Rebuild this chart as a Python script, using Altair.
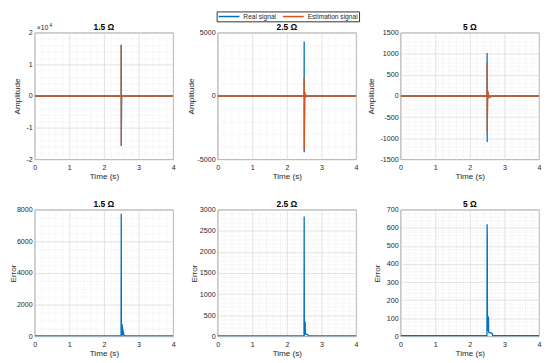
import altair as alt
import numpy as np
import pandas as pd

BLUE = "#0072BD"
ORANGE = "#D95319"
FONT = "Liberation Sans"
TXT = "#262626"

panel_titles = ["1.5 Ω", "2.5 Ω", "5 Ω"]
series_names = ["Real signal", "Estimation signal"]

# ---- Amplitude panels (time in s, amplitude) ----
t_real_15 = [0, 2.498, 2.5, 2.502, 2.51, 2.53, 2.56, 4]
v_real_15 = [0, 0, 16200, -15800, 300, -150, 0, 0]
t_est_15 = [0, 2.498, 2.5, 2.502, 2.51, 2.53, 2.56, 2.6, 4]
v_est_15 = [0, 0, 16000, -15600, 400, -250, 100, 0, 0]

t_real_25 = [0, 2.498, 2.5, 2.502, 2.51, 2.53, 2.6, 4]
v_real_25 = [0, 0, 4300, -4450, 100, -60, 0, 0]
t_est_25 = [0, 2.498, 2.5, 2.502, 2.52, 2.54, 2.56, 2.6, 4]
v_est_25 = [0, 0, 1500, -4300, 300, -120, 60, 0, 0]

t_real_5 = [0, 2.498, 2.5, 2.502, 2.51, 2.55, 4]
v_real_5 = [0, 0, 1020, -1090, 30, 0, 0]
t_est_5 = [0, 2.498, 2.5, 2.502, 2.52, 2.56, 2.62, 2.66, 4]
v_est_5 = [0, 0, 790, -860, 120, -40, -10, 0, 0]

# ---- Error panels ----
t_err_15 = [0, 2.495, 2.5, 2.505, 2.51, 2.515, 2.52, 2.525, 2.53, 2.535,
            2.54, 2.545, 2.55, 2.555, 2.56, 2.57, 2.58, 2.6, 4]
v_err_15 = [20, 20, 7750, 600, 820, 100, 780, 80, 700, 60,
            560, 40, 420, 30, 300, 150, 60, 20, 20]

t_err_25 = [0, 2.495, 2.5, 2.505, 2.51, 2.52, 2.525, 2.53, 2.535, 2.54,
            2.55, 2.6, 2.62, 4]
v_err_25 = [10, 10, 2840, 100, 20, 350, 40, 340, 60, 60, 50, 40, 10, 10]

t_err_5 = [0, 2.495, 2.5, 2.505, 2.51, 2.515, 2.52, 2.53, 2.54, 2.545,
           2.55, 2.6, 2.65, 2.66, 4]
v_err_5 = [3, 3, 620, 550, 30, 110, 30, 110, 100, 30, 20, 20, 15, 3, 3]

# axis tick settings: (domain, major step, minor step)
x_domain, x_major, x_minor = (0, 4), 1, 0.2
amp_axes = [((-20000, 20000), 10000, 2000),
            ((-5000, 5000), 5000, 1000),
            ((-1500, 1500), 500, 100)]
err_axes = [((0, 8000), 2000, 500),
            ((0, 3000), 500, 100),
            ((0, 700), 100, 20)]
amp_title_pad = [4, 2, 4.5]
err_title_pad = [-1.5, 1, 4.5]

W, H = 140, 128


def frame(t, v, name):
    return pd.DataFrame({"t": t, "v": v, "series": name, "i": range(len(t))})


def is_major(step):
    return f"abs(datum.value/{step} - round(datum.value/{step})) < 1e-6"


def make_axis(dom, major, minor, title, divisor=1, **kw):
    n = int(round((dom[1] - dom[0]) / minor))
    vals = [round(dom[0] + k * minor, 6) for k in range(n + 1)]
    test = is_major(major)
    return alt.Axis(
        values=vals,
        labelExpr=f"{test} ? '' + round(datum.value/{divisor}) : ''",
        grid=True,
        gridDash={"condition": {"test": test, "value": []}, "value": [1, 1.5]},
        gridColor={"condition": {"test": test, "value": "#d6d6d6"}, "value": "#e4e4e4"},
        gridWidth=0.7,
        ticks=False,
        domain=False,
        labelOverlap=False,
        labelFlush=False,
        labelBound=False,
        title=title,
        **kw,
    )


def x_enc():
    return alt.X("t:Q", scale=alt.Scale(domain=list(x_domain), nice=False),
                 axis=make_axis(x_domain, x_major, x_minor, "Time (s)",
                                labelPadding=4, titlePadding=2.5))


def y_enc(dom, major, minor, title, tpad, divisor=1):
    return alt.Y("v:Q", scale=alt.Scale(domain=list(dom), nice=False, zero=False),
                 axis=make_axis(dom, major, minor, title, divisor,
                                labelPadding=2.5, titlePadding=tpad))


def title_mark(text):
    return alt.Chart(pd.DataFrame({"a": [0]})).mark_text(
        text=text, align="center", baseline="alphabetic", fontSize=8.5,
        fontWeight="bold", font=FONT, color="#000000",
    ).encode(x=alt.value(W / 2), y=alt.value(-2.5))


color_scale = alt.Scale(domain=series_names, range=[BLUE, ORANGE])
legend = alt.Legend(
    title=None, orient="none", legendX=-1, legendY=-21.5, direction="horizontal",
    columns=2, symbolType="M-1,0H6", symbolSize=36, symbolStrokeWidth=1.5,
    labelOffset=18, labelFontSize=6.7, labelFont=FONT, labelColor=TXT,
    columnPadding=3, padding=1, strokeColor="#333333", fillColor="#ffffff",
)


def amp_panel(k, rt, rv, et, ev, with_legend=False):
    dom, major, minor = amp_axes[k]
    divisor = 10000 if k == 0 else 1
    layers = []
    for t, v, name, col in [(rt, rv, series_names[0], BLUE),
                            (et, ev, series_names[1], ORANGE)]:
        base = alt.Chart(frame(t, v, name))
        enc = dict(x=x_enc(),
                   y=y_enc(dom, major, minor, "Amplitude", amp_title_pad[k], divisor),
                   order="i:Q")
        if with_legend:
            m = base.mark_line(strokeWidth=1.3, clip=True).encode(
                color=alt.Color("series:N", scale=color_scale, legend=legend), **enc)
        else:
            m = base.mark_line(strokeWidth=1.3, color=col, clip=True).encode(**enc)
        layers.append(m)
    layers.append(title_mark(panel_titles[k]))
    if k == 0:
        txt = pd.DataFrame({"a": [0]})
        layers.append(alt.Chart(txt).mark_text(
            text="×10", align="left", baseline="alphabetic", fontSize=7,
            font=FONT, color=TXT).encode(x=alt.value(2), y=alt.value(-2.5)))
        layers.append(alt.Chart(txt).mark_text(
            text="4", align="left", baseline="alphabetic", fontSize=5,
            font=FONT, color=TXT).encode(x=alt.value(15), y=alt.value(-5.5)))
    return alt.layer(*layers).properties(width=W, height=H)


def err_panel(k, t, v):
    dom, major, minor = err_axes[k]
    line = alt.Chart(frame(t, v, "Error")).mark_line(
        strokeWidth=1.3, color=BLUE, clip=True).encode(
        x=x_enc(), y=y_enc(dom, major, minor, "Error", err_title_pad[k]), order="i:Q")
    return alt.layer(line, title_mark(panel_titles[k])).properties(width=W, height=H)


panels = [
    amp_panel(0, t_real_15, v_real_15, t_est_15, v_est_15),
    amp_panel(1, t_real_25, v_real_25, t_est_25, v_est_25, with_legend=True),
    amp_panel(2, t_real_5, v_real_5, t_est_5, v_est_5),
    err_panel(0, t_err_15, v_err_15),
    err_panel(1, t_err_25, v_err_25),
    err_panel(2, t_err_5, v_err_5),
]

chart = alt.concat(
    *panels, columns=3, spacing={"row": 51, "column": 45}, bounds="flush",
).resolve_scale(color="independent").resolve_legend(color="independent").properties(
    padding={"left": 0, "top": 0, "right": 0, "bottom": 0},
    background="#ffffff",
).configure_view(stroke="#808080", strokeWidth=0.8).configure_axis(
    labelFont=FONT, titleFont=FONT, labelFontSize=7.2, titleFontSize=8.2,
    labelColor=TXT, titleColor=TXT, titleFontWeight="normal",
)

chart.save("out.html", embed_options={"renderer": "svg", "actions": False})
